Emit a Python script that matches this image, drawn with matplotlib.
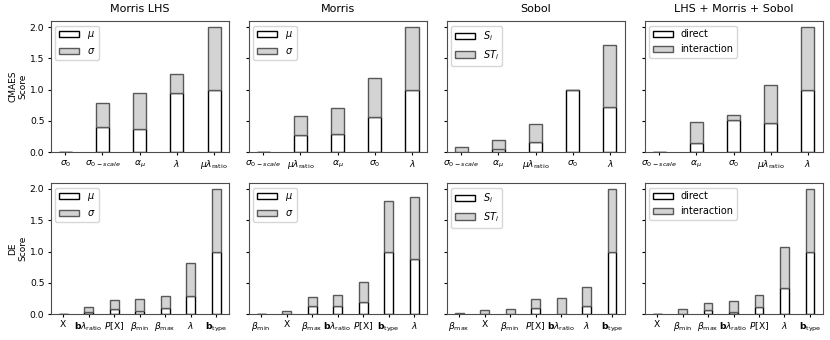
import numpy as np
import matplotlib
matplotlib.use("Agg")
import matplotlib.pyplot as plt

methods = ["Morris LHS", "Morris", "Sobol", "LHS + Morris + Sobol"]
legend_names = [(r"$\mu$", r"$\sigma$"), (r"$\mu$", r"$\sigma$"),
                (r"$S_i$", r"$ST_i$"), ("direct", "interaction")]

# tick label names
S0 = r"$\sigma_0$"
S0S = r"$\sigma_{0-scale}$"
AMU = r"$\alpha_\mu$"
LAM = r"$\lambda$"
MLR = r"$\mu\lambda_{\rm ratio}$"
X = "X"
BLR = r"$\mathbf{b}\lambda_{\rm ratio}$"
PX = r"$P[\rm X]$"
BMIN = r"$\beta_{\rm min}$"
BMAX = r"$\beta_{\rm max}$"
BTYPE = r"$\mathbf{b}_{\rm type}$"

# CMAES row
cmaes_labels = [
    [S0, S0S, AMU, LAM, MLR],
    [S0S, MLR, AMU, S0, LAM],
    [S0S, AMU, MLR, S0, LAM],
    [S0S, AMU, S0, MLR, LAM],
]
cmaes_direct = [
    [0.0, 0.40, 0.375, 0.95, 1.0],
    [0.0, 0.28, 0.29, 0.563, 1.0],
    [0.005, 0.05, 0.17, 1.0, 0.72],
    [0.0, 0.145, 0.515, 0.46, 1.0],
]
cmaes_inter = [
    [0.0, 0.38, 0.565, 0.305, 1.0],
    [0.0, 0.305, 0.41, 0.617, 1.0],
    [0.085, 0.15, 0.275, 0.0, 1.0],
    [0.0, 0.345, 0.085, 0.607, 1.0],
]

# DE row
de_labels = [
    [X, BLR, PX, BMIN, BMAX, LAM, BTYPE],
    [BMIN, X, BMAX, BLR, PX, BTYPE, LAM],
    [BMAX, X, BMIN, PX, BLR, LAM, BTYPE],
    [X, BMIN, BMAX, BLR, PX, LAM, BTYPE],
]
de_direct = [
    [0.0, 0.027, 0.08, 0.05, 0.10, 0.284, 1.0],
    [0.0, 0.01, 0.123, 0.123, 0.19, 1.0, 0.874],
    [0.005, 0.01, 0.01, 0.097, 0.0, 0.13, 1.0],
    [0.0, 0.005, 0.064, 0.032, 0.113, 0.424, 1.0],
]
de_inter = [
    [0.0, 0.086, 0.15, 0.19, 0.195, 0.531, 1.0],
    [0.0, 0.033, 0.157, 0.187, 0.32, 0.80, 1.0],
    [0.015, 0.054, 0.065, 0.143, 0.257, 0.31, 1.0],
    [0.0, 0.07, 0.113, 0.172, 0.197, 0.646, 1.0],
]

rows = [("CMAES", cmaes_labels, cmaes_direct, cmaes_inter),
        ("DE", de_labels, de_direct, de_inter)]

fig, axes = plt.subplots(2, 4, figsize=(8.3, 3.4), dpi=100, sharey=True)
fig.subplots_adjust(left=0.061, right=0.991, top=0.939, bottom=0.076,
                    wspace=0.112, hspace=0.232)

width = 0.35
for r, (algo, labels, direct, inter) in enumerate(rows):
    for c in range(4):
        ax = axes[r, c]
        x = np.arange(len(labels[c]))
        d = np.array(direct[c])
        i = np.array(inter[c])
        ax.bar(x, d, width, color="white", edgecolor="black", linewidth=1.0,
               label=legend_names[c][0])
        ax.bar(x, i, width, bottom=d, color="lightgrey", edgecolor="0.35",
               linewidth=1.0, label=legend_names[c][1])
        ax.set_xticks(x)
        ax.set_xticklabels(labels[c])
        ax.tick_params(labelsize=6.6, length=2.5, pad=2)
        ax.legend(loc="upper left", fontsize=7)
        if r == 0:
            ax.set_title(methods[c], fontsize=8)
        if c == 0:
            ax.set_ylabel(algo + "\nScore", fontsize=6.5, labelpad=1.5)
        for s in ax.spines.values():
            s.set_color("0.3")

axes[0, 0].set_ylim(0, 2.1)
axes[0, 0].set_yticks([0.0, 0.5, 1.0, 1.5, 2.0])

plt.savefig("out.png")
